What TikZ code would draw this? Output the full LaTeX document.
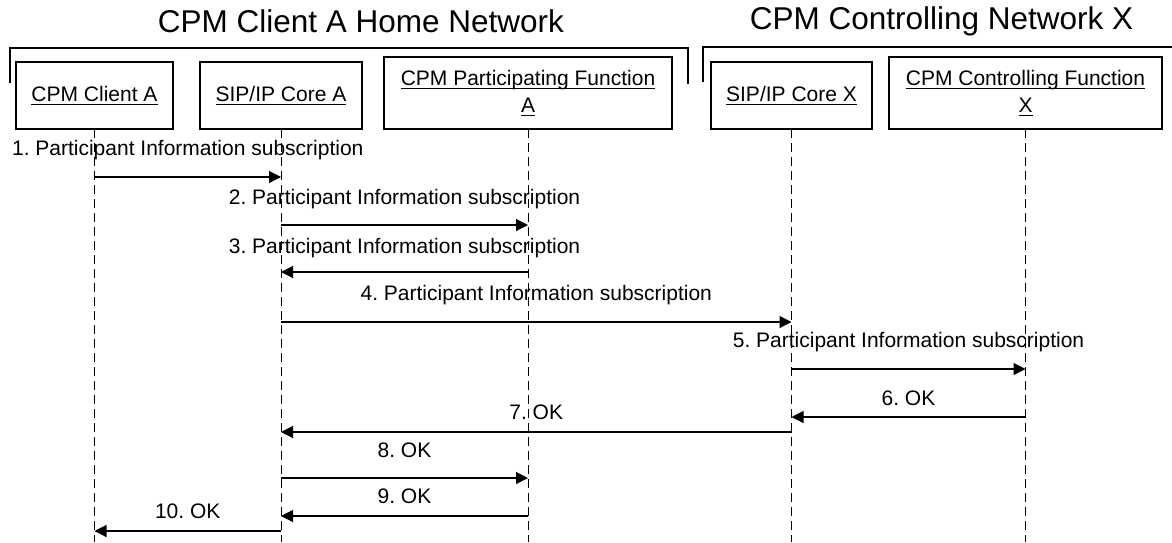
\documentclass[tikz,border=0pt]{standalone}
\usepackage{fontspec}
\setmainfont{Liberation Sans}
\usepackage{amsmath}
\usetikzlibrary{arrows.meta,positioning}
\tikzset{
  entity/.style={draw, line width=1.1pt, minimum height=67pt, inner sep=0pt, outer sep=0pt, align=center, font=\fontsize{21}{27}\selectfont},
  lifeline/.style={line width=0.9pt, dash pattern=on 9pt off 5pt},
  msg/.style={line width=1.1pt, -{Triangle[length=12pt,width=12pt]}},
  msglabel/.style={midway, inner sep=0pt, text height=15pt, text depth=0pt, font=\fontsize{21}{25}\selectfont},
  netlabel/.style={inner sep=0pt, font=\fontsize{31.5}{36}\selectfont},
  netframe/.style={line width=1.4pt}
}
\newcommand{\ulabel}[1]{\underline{\smash[b]{#1}}}
\frenchspacing

\begin{document}
\begin{tikzpicture}[x=1pt, y=-1pt]
    \useasboundingbox (0,0) rectangle (1172,542);

    % networks
    \node[netlabel] (homeNet) at (361,21.5) {CPM Client A Home Network};
    \node[netlabel] (ctrlNet) at (941.5,21.5) {CPM Controlling Network X};
    \draw[netframe] (10,83) |- (688,48) -- (688,84);
    \draw[netframe] (703,82) |- (1172,47);

    % entities
    \node[entity, minimum width=157pt] (clientA) at (94.5,95.5) {\ulabel{CPM Client A}};
    \node[entity, minimum width=162pt] (coreA) [right=27pt of clientA] {\ulabel{SIP/IP Core A}};
    \node[entity, minimum width=288pt, minimum height=72pt] (pfA) [right=22pt of coreA.south east, anchor=south west] {\ulabel{CPM Participating Function}\\\ulabel{A}};
    \node[entity, minimum width=161pt] (coreX) [right=39pt of pfA.south east, anchor=south west] {\ulabel{SIP/IP Core X}};
    \node[entity, minimum width=273pt, minimum height=72pt] (cfX) [right=17pt of coreX.south east, anchor=south west] {\ulabel{CPM Controlling Function}\\\ulabel{X}};

    % lifelines
    \coordinate (bottom) at (0,542);
    \draw[lifeline] (clientA.south) -- (clientA |- bottom);
    \draw[lifeline] (coreA.south) -- (coreA |- bottom);
    \draw[lifeline] (pfA.south) -- (pfA |- bottom);
    \draw[lifeline] (coreX.south) -- (coreX |- bottom);
    \draw[lifeline] (cfX.south) -- (cfX |- bottom);

    % messages
    \coordinate (m1) at (0,177);
    \coordinate (m2) at (0,225);
    \coordinate (m3) at (0,272);
    \coordinate (m4) at (0,322);
    \coordinate (m5) at (0,369);
    \coordinate (m6) at (0,417);
    \coordinate (m7) at (0,432);
    \coordinate (m8) at (0,478);
    \coordinate (m9) at (0,516);
    \coordinate (m10) at (0,531);

    \draw[msg] (clientA |- m1) -- node[msglabel, yshift=29pt] {1. Participant Information subscription} (coreA |- m1);
    \draw[msg] (coreA |- m2) -- node[msglabel, yshift=28pt] {2. Participant Information subscription} (pfA |- m2);
    \draw[msg] (pfA |- m3) -- node[msglabel, yshift=26pt] {3. Participant Information subscription} (coreA |- m3);
    \draw[msg] (coreA |- m4) -- node[msglabel, yshift=29pt] {4. Participant Information subscription} (coreX |- m4);
    \draw[msg] (coreX |- m5) -- node[msglabel, yshift=29pt] {5. Participant Information subscription} (cfX |- m5);
    \draw[msg] (cfX |- m6) -- node[msglabel, yshift=19pt] {6. OK} (coreX |- m6);
    \draw[msg] (coreX |- m7) -- node[msglabel, yshift=20pt] {7. OK} (coreA |- m7);
    \draw[msg] (coreA |- m8) -- node[msglabel, yshift=28pt] {8. OK} (pfA |- m8);
    \draw[msg] (pfA |- m9) -- node[msglabel, yshift=20pt] {9. OK} (coreA |- m9);
    \draw[msg] (coreA |- m10) -- node[msglabel, yshift=20pt] {10. OK} (clientA |- m10);
\end{tikzpicture}
\end{document}
